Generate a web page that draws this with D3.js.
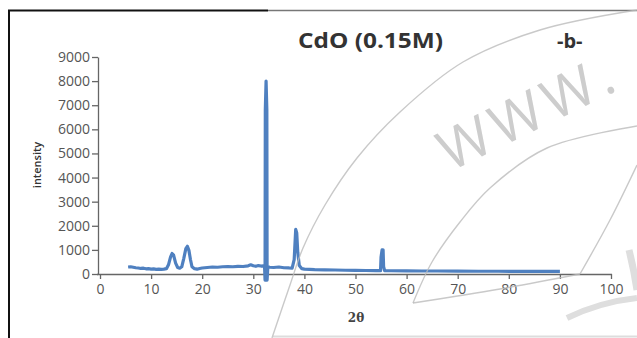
<!DOCTYPE html>
<html>
<head>
<meta charset="utf-8">
<script src="https://cdn.jsdelivr.net/npm/d3@7"></script>
<style>
  body { margin: 0; background: #fff; }
  .tick text { font-family: "Open Sans", sans-serif; font-size: 14px; fill: #555; }
  .axis path, .axis line { stroke: #666; stroke-width: 1.3; }
</style>
</head>
<body>
<div class="chart"></div>
<script>
// 2-theta positions and intensities
var twoTheta = [5.5, 6.0, 6.5, 7.0, 7.5, 8.0, 8.5, 9.0, 9.5, 10.0, 10.5, 11.0, 11.5, 12.0, 12.5, 13.0,
  13.4, 13.8, 14.1, 14.4, 14.8, 15.2, 15.6, 16.0, 16.4, 16.8, 17.1, 17.4, 17.7, 18.0, 18.5, 19.0, 19.5,
  20, 21, 22, 23, 24, 25, 26, 27, 28, 29, 29.5, 30, 30.5, 31, 31.5, 32, 32.2,
  32.3, 32.35, 32.5, 32.65, 32.7, 32.85, 33.2, 34, 35, 36, 37, 37.6, 38.0, 38.3, 38.5, 38.7, 39.0, 39.5,
  40, 41, 42, 44, 46, 48, 50, 52, 54, 54.9, 55.0, 55.2, 55.4, 55.5, 55.7,
  57, 60, 63, 66, 70, 74, 78, 82, 86, 90];
var intensity = [290, 300, 280, 260, 250, 230, 240, 215, 220, 205, 210, 195, 200, 190, 200, 220,
  380, 700, 850, 780, 450, 270, 240, 300, 650, 1050, 1150, 980, 600, 300, 220, 200, 230,
  250, 270, 290, 280, 300, 310, 300, 320, 310, 340, 380, 340, 320, 350, 330, 340, 320,
  -250, 6800, 8000, 6800, -250, 300, 280, 270, 290, 260, 250, 240, 600, 1850, 1700, 900, 350, 220,
  200, 190, 180, 175, 165, 155, 150, 145, 140, 140, 700, 1000, 1000, 300, 140,
  135, 130, 125, 125, 120, 115, 115, 110, 110, 105];

var xTicks = [0, 10, 20, 30, 40, 50, 60, 70, 80, 90, 100];
var yTicks = [0, 1000, 2000, 3000, 4000, 5000, 6000, 7000, 8000, 9000];

var titleText = "CdO (0.15M)";
var panelText = "-b-";
var xLabel = "2\u03b8";
var yLabel = "intensity";

var svgWidth = 637;
var svgHeight = 338;

var svg = d3.select(".chart")
  .append("svg")
  .attr("width", svgWidth)
  .attr("height", svgHeight);

// scales
var xScale = d3.scaleLinear().domain([0, 100]).range([100, 611]);
var yScale = d3.scaleLinear().domain([0, 9000]).range([274, 57]);

// frame of the scanned figure
svg.append("line").attr("x1", 268).attr("x2", 637).attr("y1", 10.5).attr("y2", 10.5)
  .attr("stroke", "#777").attr("stroke-width", 1.6);
svg.append("line").attr("x1", 8).attr("x2", 268).attr("y1", 10.5).attr("y2", 10.5)
  .attr("stroke", "#111").attr("stroke-width", 2);
svg.append("line").attr("x1", 9).attr("x2", 9).attr("y1", 10).attr("y2", 338)
  .attr("stroke", "#111").attr("stroke-width", 2);
svg.append("line").attr("x1", 273).attr("x2", 637).attr("y1", 336.5).attr("y2", 336.5)
  .attr("stroke", "#ddd").attr("stroke-width", 2);

// axes
var xAxis = d3.axisBottom(xScale).tickValues(xTicks).tickSize(5).tickSizeOuter(0).tickPadding(5);
var yAxis = d3.axisLeft(yScale).tickValues(yTicks).tickFormat(d3.format("d"))
  .tickSize(6).tickSizeOuter(0).tickPadding(2);

svg.append("g")
  .attr("class", "axis")
  .attr("transform", "translate(0,274)")
  .call(xAxis)
  .call(g => g.select(".domain").attr("d", "M97,0.5H612"));

svg.append("g")
  .attr("class", "axis")
  .attr("transform", "translate(98,0)")
  .call(yAxis);

// the pattern
var points = twoTheta.map((t, i) => [t, intensity[i]]);
var line = d3.line()
  .x(d => xScale(d[0]))
  .y(d => yScale(d[1]));

svg.append("path")
  .datum(points)
  .attr("d", line)
  .attr("fill", "none")
  .attr("stroke", "#4f80c0")
  .attr("stroke-width", 3.2)
  .attr("stroke-linejoin", "round");

// texts
svg.append("text")
  .attr("x", 298).attr("y", 48)
  .attr("textLength", 145).attr("lengthAdjust", "spacingAndGlyphs")
  .style("font-family", "Open Sans, sans-serif").style("font-weight", "bold")
  .style("font-size", "21px").style("fill", "#333")
  .text(titleText);

svg.append("text")
  .attr("x", 557).attr("y", 48)
  .style("font-family", "Open Sans, sans-serif").style("font-weight", "bold")
  .style("font-size", "20px").style("fill", "#333")
  .text(panelText);

svg.append("text")
  .attr("transform", "translate(41,165) rotate(-90)")
  .attr("text-anchor", "middle")
  .style("font-family", "Open Sans, sans-serif").style("font-weight", 600)
  .style("font-size", "11px").style("fill", "#333")
  .text(yLabel);

svg.append("text")
  .attr("x", 356).attr("y", 322)
  .attr("text-anchor", "middle")
  .style("font-family", "DejaVu Serif, serif").style("font-weight", "bold")
  .style("font-size", "12px").style("fill", "#444")
  .text(xLabel);

// faint watermark over the scan
var wmArcs = [
  [[272, 338], [290, 285], [303, 248], [325, 205], [357, 158], [400, 112], [463, 62], [540, 30], [637, 10]],
  [[413, 303], [432, 262], [460, 222], [490, 188], [547, 148], [637, 126]],
  [[413, 303], [500, 289], [580, 274]],
  [[580, 274], [610, 220], [637, 165]]
];
var wmLine = d3.line().curve(d3.curveCatmullRom);
svg.selectAll(".wm")
  .data(wmArcs)
  .enter()
  .append("path")
  .attr("class", "wm")
  .attr("d", wmLine)
  .attr("fill", "none")
  .attr("stroke", "#bbb")
  .attr("stroke-opacity", 0.8)
  .attr("stroke-width", 1.4);

svg.append("text")
  .attr("transform", "translate(450,172) rotate(-26)")
  .style("font-family", "Open Sans, sans-serif")
  .style("font-size", "56px").style("fill", "#cdcdcd")
  .style("letter-spacing", "6px")
  .text("WWW.");

svg.append("path")
  .attr("d", "M567,318 Q600,302 637,298")
  .attr("fill", "none").attr("stroke", "#dedede").attr("stroke-width", 6);
svg.append("path")
  .attr("d", "M629,250 Q634,270 637,290")
  .attr("fill", "none").attr("stroke", "#dedede").attr("stroke-width", 7);
</script>
</body>
</html>
